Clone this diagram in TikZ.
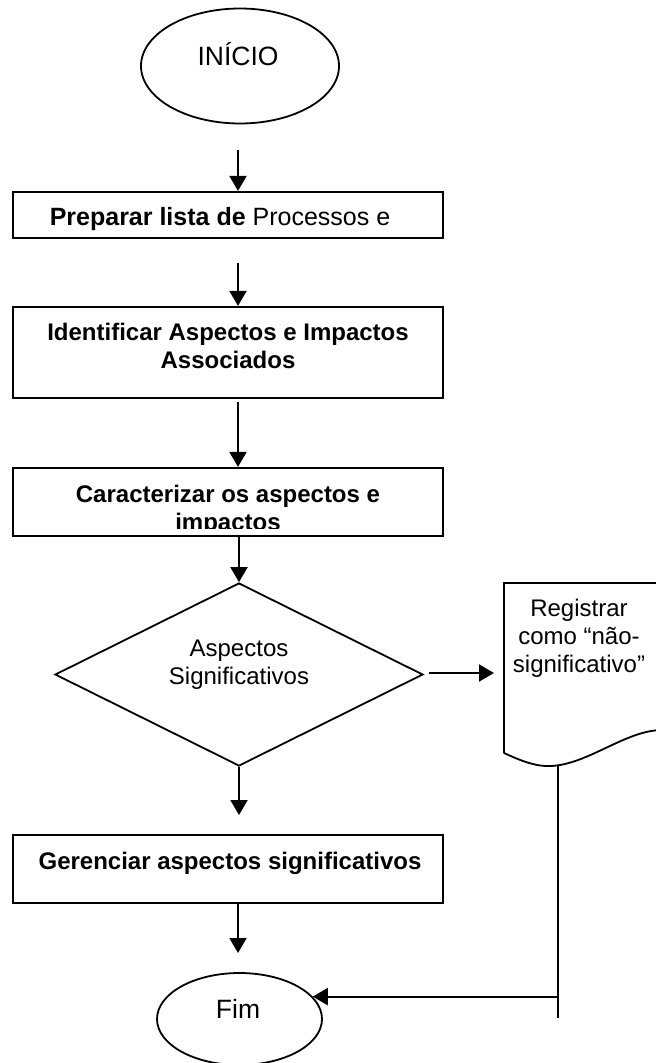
\documentclass[tikz,border=0pt]{standalone}
\usepackage{fontspec}
\setmainfont{Liberation Sans}
\usetikzlibrary{shapes.geometric,arrows.meta}
\begin{document}
\begin{tikzpicture}[x=1pt,y=-1pt,
  txt/.style={font=\fontsize{24}{28}\selectfont, inner sep=0pt},
  btxt/.style={font=\fontsize{24}{28}\selectfont\bfseries, inner sep=0pt},
  termtxt/.style={font=\fontsize{26.5}{30}\selectfont, inner sep=0pt},
  procbox/.style={draw, line width=2.2pt, minimum width=430pt, inner sep=0pt},
  term/.style={draw, ellipse, line width=1.8pt, inner sep=0pt},
  decision/.style={draw, diamond, line width=1.8pt, inner sep=0pt},
  arr/.style={line width=2pt, -{Triangle[length=15pt,width=17pt]}},
  plain/.style={line width=2pt}]
\useasboundingbox (0,0) rectangle (656,1063);

% start terminal
\node[term, minimum width=198pt, minimum height=115pt] (inicio) at (240,66) {};
\node[termtxt, anchor=base] (inicioTxt) at (238,65) {INÍCIO};

% process boxes (multi-line labels are anchored on their last baseline)
\node[procbox, minimum height=46pt] (prep) at (228,215) {};
\node[txt, font=\fontsize{25}{29}\selectfont, anchor=base] (prepTxt) at (220,225) {\textbf{Preparar lista de} Processos e};

\node[procbox, minimum height=91pt] (ident) at (228,352.5) {};
\node[btxt, anchor=base, align=center] (identTxt) at (228,368) {Identificar Aspectos e Impactos\\Associados};

\node[procbox, minimum height=68pt] (carac) at (228,502) {};
\begin{scope}
  \clip (13,468) rectangle (443,528);
  \node[btxt, anchor=base, align=center] (caracTxt) at (228,530) {Caracterizar os aspectos e\\impactos};
\end{scope}

% decision
\node[decision, minimum width=368pt, minimum height=183pt] (decis) at (239,674.5) {};
\node[txt, anchor=base, align=center] (decisTxt) at (239,684) {Aspectos\\Significativos};

\node[procbox, minimum height=68pt] (geren) at (228,869) {};
\node[btxt, anchor=base] (gerenTxt) at (230,869) {Gerenciar aspectos significativos};

% end terminal
\node[term, minimum width=165pt, minimum height=92pt] (fim) at (239.5,1019) {};
\node[termtxt, anchor=base] (fimTxt) at (238,1018) {Fim};

% document shape
\coordinate (docb) at (545,766);
\draw[line width=1.8pt] (504,753) -- (504,583) -- (664,583) -- (664,730)
  .. controls (625,729) and (585,768) .. (docb)
  .. controls (530,765) and (515,758) .. (504,753);
\node[txt, anchor=base, align=center] (docTxt) at (579,672) {Registrar\\como “não-\\significativo”};

% connectors
\coordinate (a1) at (238,150);
\draw[arr] (a1) -- (a1 |- prep.north);
\coordinate (a2) at (238,263);
\draw[arr] (a2) -- (a2 |- ident.north);
\coordinate (a3) at (238,402);
\draw[arr] (a3) -- (a3 |- carac.north);
\draw[arr] (decis.north |- carac.south) -- (decis.north);
\coordinate (a5) at (239,815);
\draw[arr] (decis.south) -- (a5);
\coordinate (a6) at (238,953);
\draw[arr] (a6 |- geren.south) -- (a6);
\coordinate (b1) at (429,673);
\coordinate (b2) at (494,673);
\draw[arr] (b1) -- (b2);
\coordinate (rtop) at (558,766);
\coordinate (rend) at (558,1018);
\draw[plain] (rtop) -- (rend);
\draw[arr] (fim.17 -| rtop) -- (fim.17);
\end{tikzpicture}
\end{document}
